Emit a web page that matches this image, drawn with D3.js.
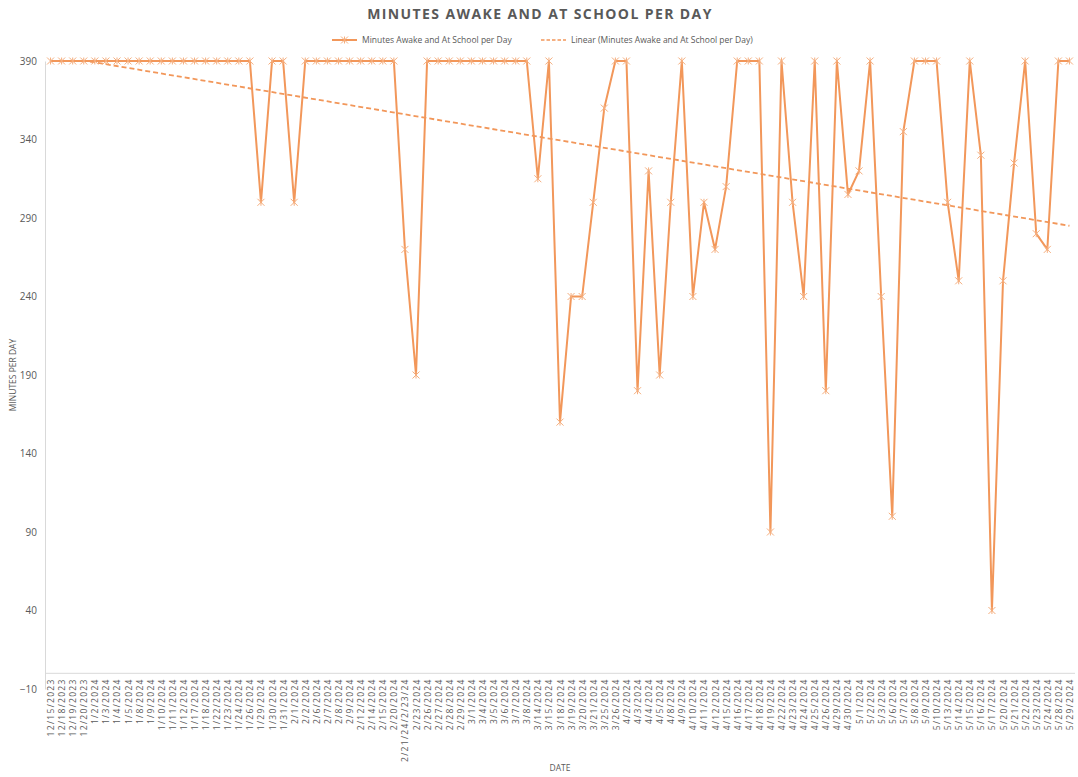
<!DOCTYPE html>
<html>
<head>
<meta charset="utf-8">
<script src="https://cdn.jsdelivr.net/npm/d3@7"></script>
<style>
  html, body { margin: 0; padding: 0; background: #ffffff; }
  svg { display: block; font-family: "Open Sans", "Liberation Sans", sans-serif; }
</style>
</head>
<body>
<svg id="chart" width="1078" height="777"></svg>
<script>
// School days logged
const dates = [
  "12/15/2023","12/18/2023","12/19/2023","12/20/2023","1/2/2024","1/3/2024","1/4/2024","1/5/2024",
  "1/8/2024","1/9/2024","1/10/2024","1/11/2024","1/12/2024","1/17/2024","1/18/2024","1/22/2024",
  "1/23/2024","1/24/2024","1/26/2024","1/29/2024","1/30/2024","1/31/2024","2/1/2024","2/2/2024",
  "2/6/2024","2/7/2024","2/8/2024","2/9/2024","2/12/2024","2/14/2024","2/15/2024","2/20/2024",
  "2/21/24/2/23/24","2/23/2024","2/26/2024","2/27/2024","2/28/2024","2/29/2024","3/1/2024","3/4/2024",
  "3/5/2024","3/6/2024","3/7/2024","3/8/2024","3/14/2024","3/15/2024","3/18/2024","3/19/2024",
  "3/20/2024","3/21/2024","3/25/2024","3/26/2024","4/2/2024","4/3/2024","4/4/2024","4/5/2024",
  "4/8/2024","4/9/2024","4/10/2024","4/11/2024","4/12/2024","4/15/2024","4/16/2024","4/17/2024",
  "4/18/2024","4/19/2024","4/22/2024","4/23/2024","4/24/2024","4/25/2024","4/26/2024","4/29/2024",
  "4/30/2024","5/1/2024","5/2/2024","5/3/2024","5/6/2024","5/7/2024","5/8/2024","5/9/2024",
  "5/10/2024","5/13/2024","5/14/2024","5/15/2024","5/16/2024","5/17/2024","5/20/2024","5/21/2024",
  "5/22/2024","5/23/2024","5/24/2024","5/28/2024","5/29/2024"
];

// Minutes awake and at school for each day
const minutes = [
  390,390,390,390,390,390,390,390,
  390,390,390,390,390,390,390,390,
  390,390,390,300,390,390,300,390,
  390,390,390,390,390,390,390,390,
  270,190,390,390,390,390,390,390,
  390,390,390,390,315,390,160,240,
  240,300,360,390,390,180,320,190,
  300,390,240,300,270,310,390,390,
  390,90,390,300,240,390,180,390,
  305,320,390,240,100,345,390,390,
  390,300,250,390,330,40,250,325,
  390,280,270,390,390
];

const yTicks = [-10, 40, 90, 140, 190, 240, 290, 340, 390];

const seriesName = "Minutes Awake and At School per Day";
const trendName = "Linear (Minutes Awake and At School per Day)";

const lineColor = "#F2975A";
const markerColor = "#F5AE7E";
const textColor = "#595959";
const gridColor = "#D9D9D9";

const svg = d3.select("#chart");
const plot = { left: 45, right: 1075, top: 61, bottom: 689 };

const x = d3.scalePoint().domain(dates).range([plot.left, plot.right]).padding(0.5);
const y = d3.scaleLinear().domain([-10, 390]).range([plot.bottom, plot.top]);

// Title
svg.append("text")
  .attr("x", 540).attr("y", 19)
  .attr("text-anchor", "middle")
  .attr("font-size", 14).attr("font-weight", 700)
  .attr("letter-spacing", "1.4px")
  .attr("fill", textColor)
  .text("MINUTES AWAKE AND AT SCHOOL PER DAY");

// Legend
const lg = svg.append("g").attr("font-size", 8.5).attr("fill", textColor);
lg.append("line").attr("x1", 332).attr("x2", 357).attr("y1", 40).attr("y2", 40)
  .attr("stroke", lineColor).attr("stroke-width", 2);
drawMarker(lg, 344.5, 40);
lg.append("text").attr("x", 362).attr("y", 43).text(seriesName);
lg.append("line").attr("x1", 541).attr("x2", 566).attr("y1", 40).attr("y2", 40)
  .attr("stroke", lineColor).attr("stroke-width", 1.6).attr("stroke-dasharray", "3.5,2");
lg.append("text").attr("x", 571).attr("y", 43).text(trendName);

// Axes
const yAxis = svg.append("g")
  .attr("transform", `translate(${plot.left},0)`)
  .call(d3.axisLeft(y).tickValues(yTicks).tickSize(0).tickPadding(8));
yAxis.select(".domain").attr("stroke", gridColor);
yAxis.selectAll("text").attr("font-size", 10).attr("fill", textColor)
  .attr("font-family", "\"Open Sans\", sans-serif");

const xAxis = svg.append("g")
  .attr("transform", `translate(0,${y(0)})`)
  .call(d3.axisBottom(x).tickSize(0).tickPadding(0));
xAxis.select(".domain").attr("stroke", gridColor).attr("d", `M${plot.left},0H${plot.right}`);
xAxis.selectAll("text")
  .attr("font-size", 8.5).attr("fill", textColor)
  .attr("font-family", "\"Open Sans\", sans-serif")
  .attr("letter-spacing", "1.3px")
  .attr("text-anchor", "end")
  .attr("dy", null)
  .attr("transform", "translate(3,5) rotate(-90)");

// Axis titles
svg.append("text")
  .attr("transform", `translate(16,375) rotate(-90)`)
  .attr("text-anchor", "middle")
  .attr("font-size", 8.5).attr("fill", textColor)
  .text("MINUTES PER DAY");
svg.append("text")
  .attr("x", 560).attr("y", 771)
  .attr("text-anchor", "middle")
  .attr("font-size", 8.5).attr("fill", textColor)
  .text("DATE");

// Clip for the plot area
svg.append("clipPath").attr("id", "plotClip")
  .append("rect")
  .attr("x", plot.left).attr("y", plot.top - 0.5)
  .attr("width", plot.right - plot.left).attr("height", plot.bottom - plot.top);

// Linear least-squares trend over the day index
const n = minutes.length;
const mx = d3.mean(minutes, (d, i) => i);
const my = d3.mean(minutes);
const slope = d3.sum(minutes, (d, i) => (i - mx) * (d - my)) / d3.sum(minutes, (d, i) => (i - mx) ** 2);
const intercept = my - slope * mx;

svg.append("path")
  .attr("clip-path", "url(#plotClip)")
  .attr("fill", "none")
  .attr("stroke", lineColor).attr("stroke-width", 1.8)
  .attr("stroke-dasharray", "5,3")
  .attr("d", d3.line()([[x(dates[0]), y(intercept)], [x(dates[n - 1]), y(intercept + slope * (n - 1))]]));

// Series line
svg.append("path")
  .datum(minutes)
  .attr("fill", "none")
  .attr("stroke", lineColor).attr("stroke-width", 2)
  .attr("stroke-linejoin", "round")
  .attr("d", d3.line().x((d, i) => x(dates[i])).y(d => y(d)));

// Star markers
const mg = svg.append("g");
minutes.forEach((d, i) => drawMarker(mg, x(dates[i]), y(d)));

function drawMarker(g, cx, cy) {
  const r = 3.5;
  g.append("path")
    .attr("d", `M${cx - r},${cy - r}L${cx + r},${cy + r}M${cx - r},${cy + r}L${cx + r},${cy - r}M${cx},${cy - r}L${cx},${cy + r}`)
    .attr("stroke", markerColor).attr("stroke-width", 1)
    .attr("fill", "none");
}
</script>
</body>
</html>
